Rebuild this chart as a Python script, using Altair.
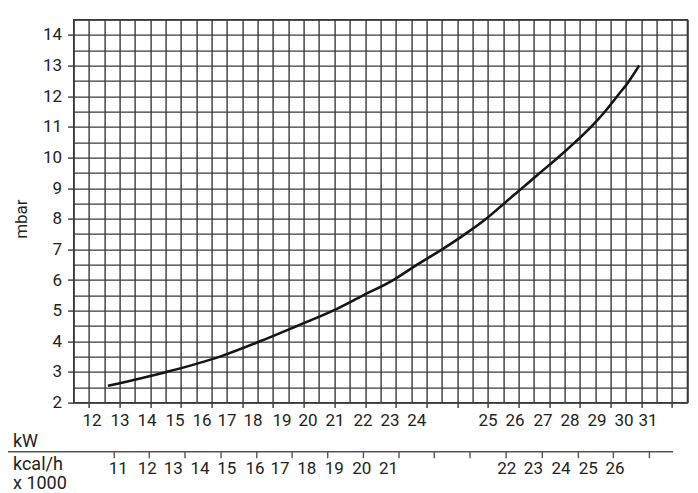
import altair as alt
import pandas as pd

# ---- data (x is expressed in grid-column units of the chart, 0..40) ----
curve_x = [2.24, 6.07, 9.54, 12.15, 14.56, 16.91, 18.87, 20.83, 22.39, 24.02, 25.52,
           26.89, 28.06, 29.23, 30.40, 31.58, 32.69, 33.73, 34.64, 35.43, 36.21, 36.86]
curve_mbar = [2.55, 3.0, 3.5, 4.0, 4.5, 5.0, 5.5, 6.0, 6.5, 7.0, 7.5,
              8.0, 8.5, 9.0, 9.5, 10.0, 10.5, 11.0, 11.5, 12.0, 12.5, 13.0]

kw_labels = ["12", "13", "14", "15", "16", "17", "18", "19", "20", "21", "22", "23", "24",
             "25", "26", "27", "28", "29", "30", "31"]
kw_label_pos = [1.20, 3.02, 4.78, 6.61, 8.37, 10.00, 11.69, 13.58, 15.28, 17.04, 18.87,
                20.63, 22.37, 27.01, 28.77, 30.60, 32.36, 34.12, 35.88, 37.44]

kcal_labels = ["11", "12", "13", "14", "15", "16", "17", "18", "19", "20", "21",
               "22", "23", "24", "25", "26"]
kcal_label_pos = [2.91, 4.80, 6.50, 8.24, 9.98, 11.83, 13.46, 15.20, 16.99, 18.78, 20.52,
                  28.23, 29.97, 31.77, 33.55, 35.29]
kcal_tick_pos = [2.65, 4.93, 7.26, 9.61, 11.94, 14.24, 16.56, 18.89, 21.21, 23.51,
                 25.84, 28.19, 30.55, 32.90, 35.18, 37.53]
kcal_line_start = [-4.34]
kcal_line_end = [39.07]

side_label_pos = [-3.95]

x_grid = list(range(0, 41))
y_grid = [2, 2.5, 3, 3.5, 4, 4.5, 5, 5.5, 6, 6.5, 7, 7.5, 8, 8.5, 9, 9.5, 10,
          10.5, 11, 11.5, 12, 12.5, 13, 13.5, 14, 14.5]

# ---- styles ----
GRID = "#3a3a3a"
TXT = "#222222"
FONT = "Roboto"

curve_df = pd.DataFrame({"col": curve_x, "mbar": curve_mbar})
kw_df = pd.DataFrame({"col": kw_label_pos, "label": kw_labels})
kcal_df = pd.DataFrame({"col": kcal_label_pos, "label": kcal_labels})
kcal_tick_df = pd.DataFrame({"col": kcal_tick_pos})
kcal_line_df = pd.DataFrame({"start": kcal_line_start, "end": kcal_line_end})
side_df = pd.DataFrame({"col": side_label_pos})

x_scale = alt.Scale(domain=[0, 40], nice=False, zero=False)
y_scale = alt.Scale(domain=[2, 14.5], nice=False, zero=False)

x_axis = alt.Axis(
    values=x_grid, grid=True, gridColor=GRID, gridWidth=1.4, gridOpacity=1,
    labels=False, domain=False, ticks=True, tickSize=5, tickColor=GRID, tickWidth=1.4,
    tickOpacity={"condition": {"test": "datum.value % 2 === 1", "value": 1}, "value": 0},
    title=None,
)
y_axis = alt.Axis(
    values=y_grid, grid=True, gridColor=GRID, gridWidth=1.4, gridOpacity=1,
    domain=False, ticks=True, tickSize=6, tickColor=GRID, tickWidth=1.4,
    tickOpacity={"condition": {"test": "datum.value % 1 === 0", "value": 1}, "value": 0},
    labelExpr="datum.value % 1 === 0 ? format(datum.value, 'd') : ''",
    labelFont=FONT, labelFontSize=17, labelColor=TXT, labelPadding=6,
    title="mbar", titleFont=FONT, titleFontSize=17, titleFontWeight="normal",
    titleColor=TXT, titleAngle=270, titleAlign="center", titleBaseline="alphabetic",
    titleX=-47, titleY=199,
)

curve = alt.Chart(curve_df).mark_line(
    color="#151515", strokeWidth=2.6, interpolate="monotone"
).encode(
    x=alt.X("col:Q", scale=x_scale, axis=x_axis),
    y=alt.Y("mbar:Q", scale=y_scale, axis=y_axis),
)

kw_text = alt.Chart(kw_df).mark_text(
    font=FONT, fontSize=17, color=TXT, align="center", baseline="middle"
).encode(
    x=alt.X("col:Q", scale=x_scale, axis=x_axis),
    y=alt.value(401.1),
    text="label:N",
)

kw_title = alt.Chart(side_df).mark_text(
    text="kW", font=FONT, fontSize=18, color=TXT, align="left", baseline="alphabetic"
).encode(
    x=alt.X("col:Q", scale=x_scale, axis=x_axis),
    y=alt.value(427.4),
)

kcal_rule = alt.Chart(kcal_line_df).mark_rule(color="#555555", strokeWidth=1.6).encode(
    x=alt.X("start:Q", scale=x_scale, axis=x_axis),
    x2="end:Q",
    y=alt.value(432.1),
)

kcal_ticks = alt.Chart(kcal_tick_df).mark_rule(color="#555555", strokeWidth=1.4).encode(
    x=alt.X("col:Q", scale=x_scale, axis=x_axis),
    y=alt.value(432.1),
    y2=alt.value(438.6),
)

kcal_text = alt.Chart(kcal_df).mark_text(
    font=FONT, fontSize=17, color=TXT, align="center", baseline="middle"
).encode(
    x=alt.X("col:Q", scale=x_scale, axis=x_axis),
    y=alt.value(449.9),
    text="label:N",
)

kcal_title = alt.Chart(side_df).mark_text(
    text="kcal/h\nx 1000", lineBreak="\n", lineHeight=19.5,
    font=FONT, fontSize=18, color=TXT, align="left", baseline="alphabetic"
).encode(
    x=alt.X("col:Q", scale=x_scale, axis=x_axis),
    y=alt.value(450.4),
)

chart = alt.layer(
    curve, kw_text, kw_title, kcal_rule, kcal_ticks, kcal_text, kcal_title
).properties(
    width=613.7,
    height=383,
    padding={"left": 65.6, "top": 11.6, "right": 2.7, "bottom": 90},
    autosize=alt.AutoSizeParams(type="none"),
    background="white",
).configure_view(
    stroke=GRID, strokeWidth=1.4
)

chart.save("out.html", embed_options={"renderer": "svg", "actions": False})
